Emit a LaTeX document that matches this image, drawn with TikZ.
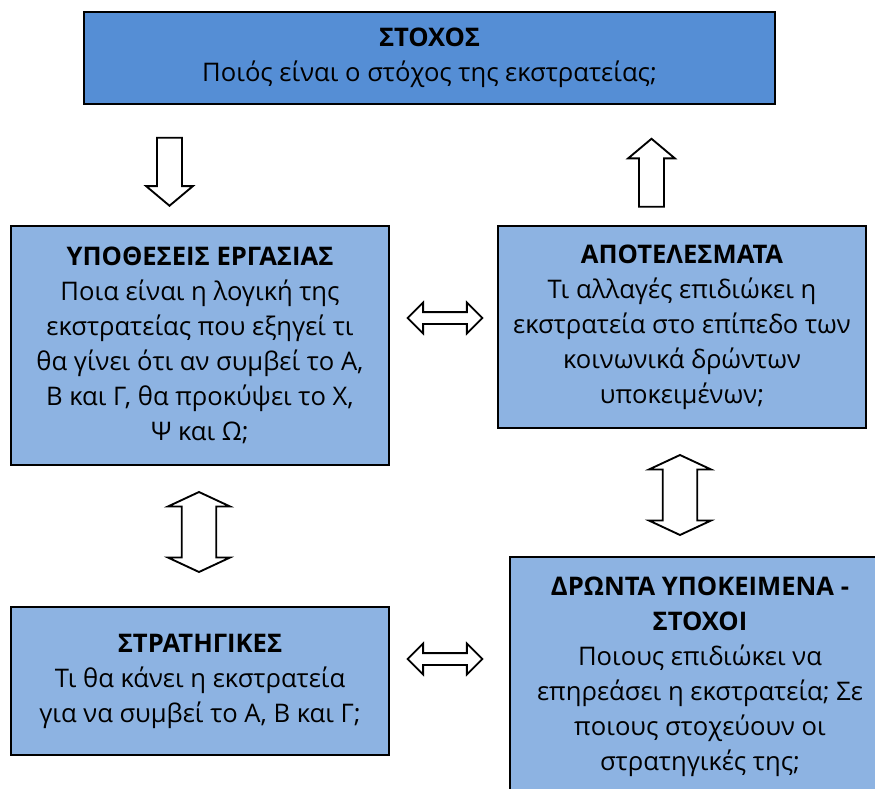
\documentclass[tikz,border=0pt]{standalone}
\usepackage{fontspec}
\setmainfont{Open Sans}
\usetikzlibrary{shapes.arrows}
\definecolor{goalblue}{RGB}{85,142,213}
\definecolor{boxblue}{RGB}{141,179,226}
\tikzset{
    box/.style = {
        rectangle,
        draw=black,
        line width=1.1pt,
        fill=boxblue,
        align=center,
        inner sep=0pt,
        font=\fontsize{19.2}{26.3}\selectfont
    },
    goalbox/.style = {
        box,
        fill=goalblue
    },
    onearrow/.style = {
        single arrow,
        draw=black,
        fill=white,
        line width=1.4pt,
        single arrow head indent=0pt,
        inner xsep=0pt,
        inner ysep=7.5pt,
        minimum height=51pt,
        minimum width=35pt,
        single arrow tip angle=100
    },
    twoarrow/.style = {
        double arrow,
        draw=black,
        fill=white,
        line width=1.4pt,
        double arrow head indent=0pt,
        inner xsep=0pt
    },
    flatarrow/.style = {
        twoarrow,
        inner ysep=3.75pt,
        minimum height=56pt,
        minimum width=22.5pt,
        double arrow tip angle=90
    },
    tallarrow/.style = {
        twoarrow,
        rotate=90,
        inner ysep=8.25pt,
        minimum height=60pt,
        minimum width=46.5pt,
        double arrow tip angle=130
    }
}
\begin{document}
\begin{tikzpicture}[x=0.75pt, y=-0.75pt]
    \useasboundingbox (0,0) rectangle (875,789);
    \clip (0,0) rectangle (875,789);
    % boxes
    \node [goalbox, minimum width=518.25pt, minimum height=69pt] (goal) at (429.5,58)
        {\textbf{ΣΤΟΧΟΣ}\\Ποιός είναι ο στόχος της εκστρατείας;};
    \node [box, minimum width=283.5pt, minimum height=179.25pt] (hypo) at (200,345.5)
        {\textbf{ΥΠΟΘΕΣΕΙΣ ΕΡΓΑΣΙΑΣ}\\Ποια είναι η λογική της\\εκστρατείας που εξηγεί τι\\θα γίνει ότι αν συμβεί το Α,\\Β και Γ, θα προκύψει το Χ,\\Ψ και Ω;};
    \node [box, minimum width=276pt, minimum height=151.5pt] (result) at (682,327)
        {\textbf{ΑΠΟΤΕΛΕΣΜΑΤΑ}\\Τι αλλαγές επιδιώκει η\\εκστρατεία στο επίπεδο των\\κοινωνικά δρώντων\\υποκειμένων;};
    \node [box, minimum width=283.5pt, minimum height=111pt] (strat) at (200,681)
        {\textbf{ΣΤΡΑΤΗΓΙΚΕΣ}\\Τι θα κάνει η εκστρατεία\\για να συμβεί το Α, Β και Γ;};
    \node [box, minimum width=285pt, minimum height=180pt] (actors) at (700,677)
        {\textbf{ΔΡΩΝΤΑ ΥΠΟΚΕΙΜΕΝΑ -}\\\textbf{ΣΤΟΧΟΙ}\\Ποιους επιδιώκει να\\επηρεάσει η εκστρατεία; Σε\\ποιους στοχεύουν οι\\στρατηγικές της;};
    % block arrows
    \node [onearrow, rotate=-90] (godown) at (169.5,166.5) {};
    \node [onearrow, rotate=90] (goup) at (651.5,178) {};
    \node [flatarrow] (linkhr) at (445,318) {};
    \node [flatarrow] (linksa) at (445,659) {};
    \node [tallarrow] (linkhs) at (199,532) {};
    \node [tallarrow] (linkra) at (680,495) {};
\end{tikzpicture}
\end{document}
